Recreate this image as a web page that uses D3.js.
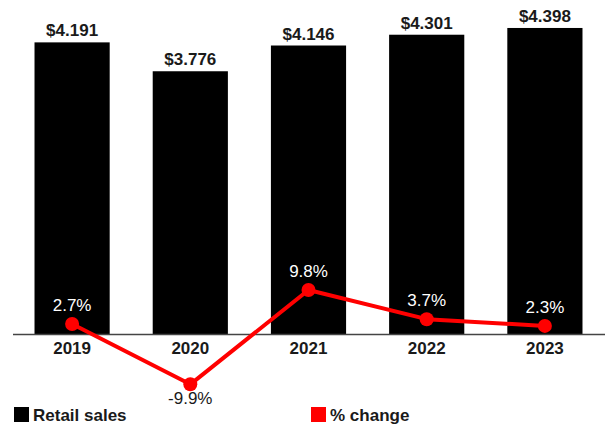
<!DOCTYPE html>
<html>
<head>
<meta charset="utf-8">
<script src="https://cdn.jsdelivr.net/npm/d3@7"></script>
<style>
  body { margin: 0; background: #fff; }
  svg { display: block; font-family: "Liberation Sans", Arial, sans-serif; }
</style>
</head>
<body>
<svg id="chart"></svg>
<script>
const years = ["2019", "2020", "2021", "2022", "2023"];
const retailSales = [4.191, 3.776, 4.146, 4.301, 4.398];
const pctChange = [2.7, -9.9, 9.8, 3.7, 2.3];
const legendLabels = ["Retail sales", "% change"];

const width = 611;
const height = 425;
const baseline = 334;
const textColor = "#1a1a1a";

const svg = d3.select("#chart")
  .attr("width", width)
  .attr("height", height);

const x = d3.scaleBand()
  .domain(years)
  .range([13, 604])
  .paddingInner(0.364)
  .paddingOuter(0.182);

const y = d3.scaleLinear()
  .domain([0, 4.8])
  .range([baseline, 0]);

const yPct = d3.scaleLinear()
  .domain([-10, 10])
  .range([384.8, 289]);

const bars = years.map((yr, i) => ({ year: yr, value: retailSales[i], pct: pctChange[i] }));

// bars
svg.selectAll("rect.bar")
  .data(bars)
  .join("rect")
  .attr("class", "bar")
  .attr("x", d => x(d.year))
  .attr("y", d => y(d.value))
  .attr("width", x.bandwidth())
  .attr("height", d => baseline - y(d.value))
  .attr("fill", "#000");

// value labels
svg.selectAll("text.value")
  .data(bars)
  .join("text")
  .attr("class", "value")
  .attr("x", d => x(d.year) + x.bandwidth() / 2)
  .attr("y", d => y(d.value) - 6)
  .attr("text-anchor", "middle")
  .attr("font-size", 17)
  .attr("font-weight", "bold")
  .attr("fill", textColor)
  .text(d => "$" + d3.format(".3f")(d.value));

// x axis
const xAxis = svg.append("g")
  .attr("transform", `translate(0,${baseline})`)
  .call(d3.axisBottom(x).tickSize(0).tickPadding(8));
xAxis.select(".domain")
  .attr("d", "M13,0.5H605")
  .attr("stroke", "#444")
  .attr("stroke-width", 1.5);
xAxis.selectAll("text")
  .attr("font-family", "Liberation Sans, Arial, sans-serif")
  .attr("font-size", 17)
  .attr("font-weight", "bold")
  .attr("fill", textColor);

// % change line
const cx = d => x(d.year) + x.bandwidth() / 2;
const line = d3.line()
  .x(cx)
  .y(d => yPct(d.pct));

svg.append("path")
  .datum(bars)
  .attr("d", line)
  .attr("fill", "none")
  .attr("stroke", "#ff0000")
  .attr("stroke-width", 4)
  .attr("stroke-linejoin", "round");

svg.selectAll("circle.pt")
  .data(bars)
  .join("circle")
  .attr("class", "pt")
  .attr("cx", cx)
  .attr("cy", d => yPct(d.pct))
  .attr("r", 7)
  .attr("fill", "#ff0000");

svg.selectAll("text.pct")
  .data(bars)
  .join("text")
  .attr("class", "pct")
  .attr("x", cx)
  .attr("y", d => d.pct < 0 ? yPct(d.pct) + 20 : yPct(d.pct) - 13)
  .attr("text-anchor", "middle")
  .attr("font-size", 17)
  .attr("fill", d => d.pct < 0 ? textColor : "#fff")
  .text(d => d3.format(".1f")(d.pct).replace("−", "-") + "%");

// legend
const legendColors = ["#000", "#ff0000"];
const legendX = [14, 311];
const legend = svg.selectAll("g.legend")
  .data(legendLabels)
  .join("g")
  .attr("class", "legend")
  .attr("transform", (d, i) => `translate(${legendX[i]},407)`);

legend.append("rect")
  .attr("width", 15)
  .attr("height", 15)
  .attr("fill", (d, i) => legendColors[i]);

legend.append("text")
  .attr("x", 19)
  .attr("y", 14)
  .attr("font-size", 17)
  .attr("font-weight", "bold")
  .attr("fill", textColor)
  .text(d => d);
</script>
</body>
</html>
